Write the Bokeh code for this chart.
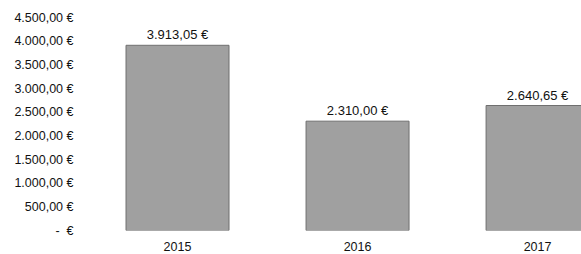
from bokeh.plotting import figure
from bokeh.models import Range1d, FixedTicker, ColumnDataSource, LabelSet
from bokeh.core.properties import value
from bokeh.embed import file_html
from bokeh.resources import INLINE

years = ["2015", "2016", "2017"]
amounts = [3913.05, 2310.00, 2640.65]
amount_labels = ["3.913,05 €", "2.310,00 €", "2.640,65 €"]
y_ticks = [0, 500, 1000, 1500, 2000, 2500, 3000, 3500, 4000, 4500]
y_tick_labels = ["-\u00a0\u00a0€", "500,00 €", "1.000,00 €", "1.500,00 €", "2.000,00 €",
                 "2.500,00 €", "3.000,00 €", "3.500,00 €", "4.000,00 €", "4.500,00 €"]

xpos = [i + 0.5 for i in range(len(years))]
src = ColumnDataSource(dict(x=xpos, top=amounts, lab=amount_labels))

p = figure(width=581, height=254, output_backend="svg", toolbar_location=None,
           x_range=Range1d(0, 2.744), y_range=Range1d(0, 4500),
           min_border_left=87, min_border_right=0, min_border_top=17, min_border_bottom=24)
p.outline_line_color = None
p.xgrid.grid_line_color = None
p.ygrid.grid_line_color = None

p.vbar(x="x", top="top", width=0.572, bottom=0, source=src,
       fill_color="#a0a0a0", line_color="#6f6f6f", line_width=1)

labels = LabelSet(x="x", y="top", text="lab", source=src, text_align="center",
                  text_baseline="bottom", y_offset=3, text_font=value("Liberation Sans"),
                  text_font_size="13px", text_color="#111111")
p.add_layout(labels)

p.yaxis.ticker = FixedTicker(ticks=y_ticks)
p.yaxis.major_label_overrides = {t: l for t, l in zip(y_ticks, y_tick_labels)}
p.xaxis.ticker = FixedTicker(ticks=xpos)
p.xaxis.major_label_overrides = {x: y for x, y in zip(xpos, years)}
for ax in (p.xaxis, p.yaxis):
    ax.axis_line_color = None
    ax.major_tick_line_color = None
    ax.minor_tick_line_color = None
    ax.major_label_text_font = "Liberation Sans"
    ax.major_label_text_font_size = "12.5px"
    ax.major_label_text_color = "#111111"
p.yaxis.major_label_standoff = 8
p.xaxis.major_label_standoff = 5

open("out.html", "w").write(file_html(p, INLINE))
